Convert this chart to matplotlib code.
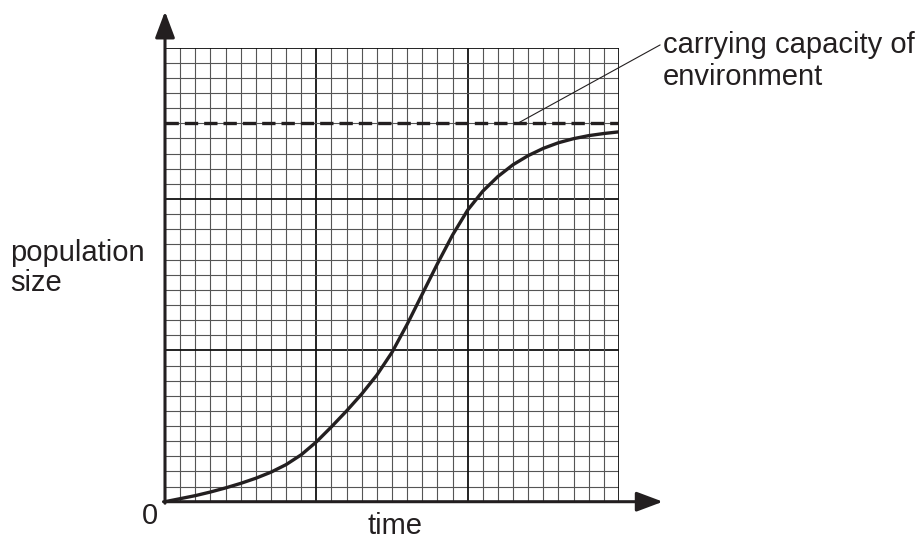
import numpy as np
import matplotlib
matplotlib.use('Agg')
import matplotlib.pyplot as plt

plt.rcParams['font.family'] = ['Liberation Sans', 'DejaVu Sans']

# Kurva pertumbuhan populasi (satuan: kotak kecil di kertas grafik)
waktu = list(range(31))
populasi = [0, 0.2, 0.4, 0.64, 0.91, 1.21, 1.55, 1.95, 2.45, 3.1, 3.95,
            4.95, 6.0, 7.12, 8.37, 9.87, 11.72, 13.72, 15.72, 17.62, 19.27,
            20.52, 21.49, 22.27, 22.87, 23.35, 23.72, 23.99, 24.19, 24.33, 24.44]
kapasitas = 25
n_kotak = 30

fig = plt.figure(figsize=(9.22, 5.46), dpi=100)
ax = fig.add_axes([165 / 922, 1 - 501.7 / 546, 454 / 922, 454 / 546])
ax.set_xlim(0, n_kotak)
ax.set_ylim(0, n_kotak)
ax.axis('off')

# Kertas grafik
for i in range(n_kotak + 1):
    if i % 10 == 0:
        c, lw = '#111111', 1.3
    else:
        c, lw = '#555555', 0.8
    ax.plot([i, i], [0, n_kotak], color=c, lw=lw, zorder=1)
    ax.plot([0, n_kotak], [i, i], color=c, lw=lw, zorder=1)

# Sumbu dengan panah
panah = dict(arrowstyle='-|>,head_length=1.6,head_width=0.6',
             color='#231f20', lw=2.2, shrinkA=0, shrinkB=0)
ax.annotate('', xy=(32.9, 0), xytext=(-0.1, 0), arrowprops=panah,
            annotation_clip=False, zorder=5)
ax.annotate('', xy=(0, 32.4), xytext=(0, -0.1), arrowprops=panah,
            annotation_clip=False, zorder=5)

# Garis kapasitas dan kurva
ax.plot([0, n_kotak], [kapasitas, kapasitas], color='#231f20', lw=2.4,
        dashes=(4.0, 1.8), zorder=3)
ax.plot(waktu, populasi, color='#231f20', lw=2.4, zorder=4,
        solid_capstyle='round', solid_joinstyle='round')

# Label
ax.annotate('carrying capacity of\nenvironment', xy=(23.3, kapasitas),
            xytext=(32.9, 29.1), fontsize=21, color='#231f20',
            ha='left', va='center', linespacing=1.17,
            arrowprops=dict(arrowstyle='-', color='#231f20', lw=0.8,
                            shrinkA=0, shrinkB=0, relpos=(0, 0.8)),
            annotation_clip=False)
fig.text(10 / 922, 1 - 268 / 546, 'population\nsize', fontsize=21,
         color='#231f20', ha='left', va='center', linespacing=1.05)
fig.text(395 / 922, 1 - 526 / 546, 'time', fontsize=21, color='#231f20',
         ha='center', va='center')
fig.text(150 / 922, 1 - 516 / 546, '0', fontsize=21, color='#231f20',
         ha='center', va='center')

fig.savefig('out.png', dpi=100)
